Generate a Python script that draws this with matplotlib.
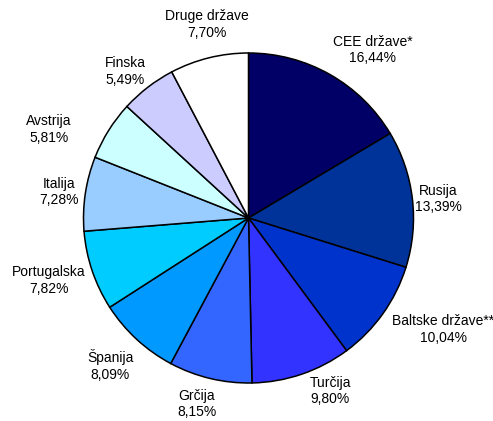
import matplotlib
matplotlib.use("Agg")
import matplotlib.pyplot as plt
import numpy as np

labels = ["CEE države*", "Rusija", "Baltske države**", "Turčija", "Grčija",
          "Španija", "Portugalska", "Italija", "Avstrija", "Finska", "Druge države"]
values = [16.44, 13.39, 10.04, 9.80, 8.15, 8.09, 7.82, 7.28, 5.81, 5.49, 7.70]
colors = ["#000066", "#003399", "#0033CC", "#3333FF", "#3366FF", "#0099FF",
          "#00CCFF", "#99CCFF", "#CCFFFF", "#CCCCFF", "#FFFFFF"]
# label placement (distance factor, angle offset in degrees)
label_dist = [1.265, 1.154, 1.36, 1.159, 1.17, 1.226, 1.266, 1.159, 1.323, 1.161, 1.199]
label_off = [-6.8, -1.0, 5.6, 6.4, -2.0, -0.5, -1.3, 0.7, 8.2, 2.5, -1.8]

plt.rcParams['font.family'] = ['Liberation Sans', 'DejaVu Sans']

W, H = 493, 421
fig = plt.figure(figsize=(W / 100, H / 100), dpi=100)
ax = fig.add_axes([0, 0, 1, 1])
R = 165.0
cx, cy = 248.5, 218.0

wedges, _ = ax.pie(values, colors=colors, startangle=90, counterclock=False,
                   radius=1.0, wedgeprops=dict(edgecolor="black", linewidth=1.1))

for w, lab, v, d, off in zip(wedges, labels, values, label_dist, label_off):
    ang = np.deg2rad((w.theta1 + w.theta2) / 2 + off)
    x, y = d * np.cos(ang), d * np.sin(ang)
    ax.text(x, y, f"{lab}\n{v:.2f}%".replace(".", ","), ha="center", va="center",
            fontsize=10, color="#000000", linespacing=1.22)

ax.set_xlim(-cx / R, (W - cx) / R)
ax.set_ylim(-(H - cy) / R, cy / R)
ax.set_aspect("equal")
ax.axis("off")
fig.savefig("out.png", dpi=100, facecolor="white")
